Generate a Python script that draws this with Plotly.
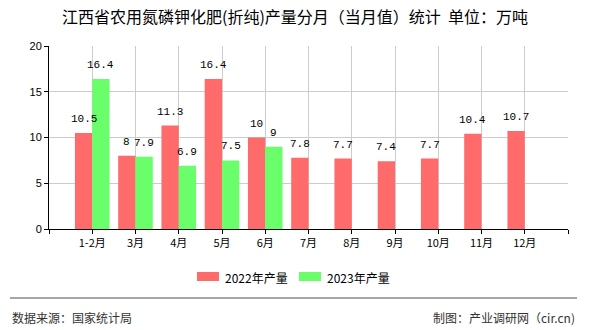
import plotly.graph_objects as go

categories = ["1-2月", "3月", "4月", "5月", "6月", "7月", "8月", "9月", "10月", "11月", "12月"]
values_2022 = [10.5, 8, 11.3, 16.4, 10, 7.8, 7.7, 7.4, 7.7, 10.4, 10.7]
values_2023 = [16.4, 7.9, 6.9, 7.5, 9]
y_ticks = [0, 5, 10, 15, 20]
series_names = ["2022年产量", "2023年产量"]

red = "#FF6A6A"
green = "#6AFF6A"
label_font = dict(family="Liberation Mono, DejaVu Sans Mono, monospace", size=11, color="#000")
cjk = "Noto Sans CJK SC, sans-serif"

L, R, T, B = 49, 22, 46, 101
PW, PH = 590 - L - R, 330 - T - B

x_idx = list(range(len(categories)))
bar_w = 0.4

fig = go.Figure()
fig.add_trace(go.Bar(
    x=x_idx, y=values_2022, name=series_names[0], width=bar_w, offset=-bar_w,
    marker=dict(color=red, line=dict(width=0)), showlegend=False,
))
fig.add_trace(go.Bar(
    x=x_idx[:len(values_2023)], y=values_2023, name=series_names[1], width=bar_w, offset=0,
    marker=dict(color=green, line=dict(width=0)), showlegend=False,
))

for vals, off in ((values_2022, -bar_w / 2), (values_2023, bar_w / 2)):
    for i, v in enumerate(vals):
        fig.add_annotation(x=i + off, y=v, text=f"{v:g}", showarrow=False,
                           xanchor="center", yanchor="bottom", yshift=6,
                           font=label_font)

fig.update_layout(
    width=590, height=330,
    margin=dict(l=L, r=R, t=T, b=B),
    paper_bgcolor="white", plot_bgcolor="white",
    barmode="overlay",
    title=dict(text="江西省农用氮磷钾化肥(折纯)产量分月（当月值）统计  单位：万吨",
               x=0.5, xanchor="center", y=1 - 17 / 330, yanchor="middle",
               font=dict(family=cjk, size=16, color="#000")),
    xaxis=dict(
        range=[-1, 11], tickmode="array",
        tickvals=list(range(-1, 12)), ticktext=[""] + categories + [""],
        showgrid=True, gridcolor="#CCCCCC", gridwidth=1,
        showline=True, linecolor="#000", linewidth=1,
        ticks="outside", ticklen=4, tickcolor="#000",
        tickfont=dict(family=cjk, size=11, color="#000"),
        zeroline=False,
    ),
    yaxis=dict(
        range=[0, 20], tickmode="array", tickvals=y_ticks,
        showgrid=True, gridcolor="#CCCCCC", gridwidth=1,
        showline=True, linecolor="#000", linewidth=1,
        ticks="outside", ticklen=4, tickcolor="#000",
        tickfont=dict(family="Liberation Sans, sans-serif", size=11, color="#000"),
        zeroline=False,
    ),
    showlegend=False,
)

def px_x(x):
    return (x - L) / PW

def px_y(y):
    return (330 - B - y) / PH

# custom legend
for name, color, x0 in ((series_names[0], red, 197), (series_names[1], green, 299)):
    fig.add_shape(type="rect", xref="paper", yref="paper",
                  x0=px_x(x0), x1=px_x(x0 + 22), y0=px_y(272), y1=px_y(281),
                  fillcolor=color, line=dict(width=0))
    fig.add_annotation(text=name, xref="paper", yref="paper",
                       x=px_x(x0 + 26), y=px_y(277), xanchor="left", yanchor="middle",
                       showarrow=False, font=dict(family=cjk, size=12, color="#000"))

fig.add_shape(type="line", xref="paper", yref="paper",
              x0=px_x(10), x1=px_x(577), y0=px_y(298), y1=px_y(298),
              line=dict(color="#888888", width=1.5))
fig.add_annotation(text="数据来源：国家统计局", xref="paper", yref="paper",
                   x=px_x(10), y=px_y(317), xanchor="left", yanchor="middle",
                   showarrow=False, font=dict(family=cjk, size=12, color="#333"))
fig.add_annotation(text="制图：产业调研网（cir.cn)", xref="paper", yref="paper",
                   x=px_x(577), y=px_y(317), xanchor="right", yanchor="middle",
                   showarrow=False, font=dict(family=cjk, size=12, color="#333"))

fig.write_html("out.html")
